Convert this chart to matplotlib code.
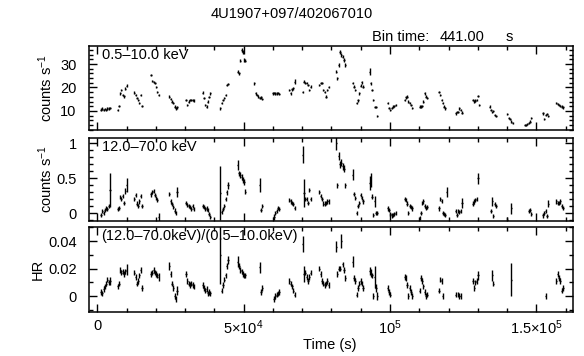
import numpy as np
import matplotlib.pyplot as plt
from matplotlib.ticker import MultipleLocator, FixedLocator, FixedFormatter

plt.rcParams['font.family'] = ['Liberation Sans', 'DejaVu Sans']
plt.rcParams['mathtext.fontset'] = 'custom'
plt.rcParams['mathtext.rm'] = 'Liberation Sans'
plt.rcParams['mathtext.it'] = 'Liberation Sans:italic'
plt.rcParams['font.size'] = 10.5

nan = np.nan
BIN = 441.0

# bin centres (s), one line per good-time interval
time = [
    1265, 1706, 2147, 2588, 3029, 3470, 3911, 4352,
    6940, 7381, 7822, 8263, 8704, 9145, 9586, 10027,
    12650, 13091, 13532, 13973, 14414, 14855, 15296,
    18360, 18801, 19242, 19683, 20124, 20565, 21006,
    24620, 25061, 25502, 25943, 26384, 26825, 27266,
    30330, 30771, 31212, 31653, 32094, 32535, 32976,
    36000, 36441, 36882, 37323, 37764, 38205, 38646,
    42050, 42491, 42932, 43373, 43814, 44255, 44696,
    47970, 48411, 48852, 49293, 49734, 50175, 50616,
    53680, 54121, 54562, 55003, 55444, 55885, 56326,
    59940, 60381, 60822, 61263, 61704, 62145,
    65650, 66091, 66532, 66973, 67414,
    70190, 70631, 71072, 71513, 71954, 72395, 72836,
    75900, 76341, 76782, 77223, 77664, 78105, 78546, 78987,
    81610, 82051, 82492, 82933, 83374, 83815, 84256, 84697,
    87280, 87721, 88162, 88603, 89044, 89485, 89926, 90367, 90808,
    93000, 93441, 93882, 94323, 94764, 95205, 95646,
    99250, 99691, 100132, 100573, 101014, 101455, 101896,
    104960, 105401, 105842, 106283, 106724, 107165, 107606,
    110090, 110531, 110972, 111413, 111854, 112295, 112736,
    116700, 117141, 117582, 118023, 118464, 118905, 119346,
    122400, 122841, 123282, 123723, 124164, 124605,
    128300, 128741, 129182, 129623, 130064, 130505,
    134000, 134441, 134882, 135323, 135764, 136205,
    140100, 140541, 140982, 141423, 141864,
    146000, 146441, 146882, 147323, 147764, 148205,
    152250, 152691, 153132, 153573, 154014,
    156830, 157271, 157712, 158153, 158594, 159035,
]

# 0.5-10.0 keV rate (counts/s)
soft = [
    10.6, 11.0, 10.4, 10.9, 10.5, 11.1, 11.0, 11.4,
    10.4, 12.1, 17.5, 18.9, 16.8, 16.2, 19.5, 20.8,
    17.8, 16.8, 15.4, 14.7, 13.3, 16.8, 12.1,
    25.3, 22.8, 22.4, 22.0, 20.2, 18.1, 16.8,
    16.1, 15.0, 14.0, 13.3, 11.9, 11.1, 11.5,
    14.7, 12.6, 14.0, 14.7, 14.7, 14.7, 14.4,
    17.8, 15.4, 12.6, 11.9, 14.0, 16.0, 17.5,
    11.1, 13.3, 14.7, 15.4, 16.8, 21.1, 21.5,
    26.7, 26.0, 31.4, 36.0, 35.0, 31.7, 31.4,
    21.8, 17.5, 16.8, 16.1, 15.4, 15.8, 15.0,
    17.5, 17.6, 17.4, 17.5, 17.6, 17.3,
    18.9, 17.5, 19.2, 19.6, 22.5,
    18.2, 22.5, 22.0, 21.8, 21.1, 18.9, 20.4,
    21.0, 21.8, 21.8, 18.9, 18.2, 16.1, 18.9, 20.3,
    26.7, 23.9, 29.6, 35.2, 33.8, 33.1, 31.7, 29.6,
    21.8, 20.4, 19.0, 13.5, 14.5, 17.5, 20.8, 22.2, 20.4,
    26.7, 21.8, 18.9, 14.7, 11.6, 11.6, 7.9,
    13.3, 11.3, 10.4, 11.3, 11.9, 12.1, 12.6,
    14.7, 15.8, 16.1, 14.0, 13.3, 12.6, 11.2,
    11.9, 11.9, 12.1, 14.0, 17.5, 16.1, 15.4,
    18.2, 16.8, 14.7, 13.3, 11.9, 11.1, nan,
    9.0, 9.7, 9.7, 11.1, 10.4, 9.3,
    14.7, 14.0, 14.4, 14.7, 16.4, 12.6,
    11.9, 10.4, 9.7, 10.1, 8.3, 7.9,
    8.7, 6.9, 6.5, 5.5, 5.0,
    4.0, 4.0, 4.4, 4.7, 5.5, 6.9,
    9.0, 6.5, 8.3, 8.7, 8.0,
    13.3, 13.0, 12.6, 12.1, 11.9, 11.5,
]
soft_err = [
    0.5, 0.5, 0.5, 0.5, 0.5, 0.5, 0.5, 0.5,
    0.5, 0.5, 0.5, 0.5, 0.5, 0.5, 0.5, 0.6,
    0.5, 0.5, 0.5, 0.5, 0.5, 0.5, 0.5,
    0.6, 0.5, 0.5, 0.5, 0.5, 0.5, 0.5,
    0.5, 0.5, 0.5, 0.5, 0.5, 0.5, 0.5,
    0.5, 0.5, 0.5, 0.5, 0.5, 0.5, 0.5,
    0.5, 0.5, 0.5, 0.5, 0.5, 0.5, 0.5,
    0.5, 0.5, 0.5, 0.5, 0.5, 0.5, 0.5,
    0.6, 0.6, 0.7, 0.8, 0.8, 0.7, 0.7,
    0.6, 0.5, 0.5, 0.5, 0.5, 0.5, 0.5,
    0.5, 0.5, 0.5, 0.5, 0.5, 0.5,
    0.5, 0.5, 0.5, 0.6, 1.0,
    0.5, 0.6, 0.5, 0.5, 0.5, 0.5, 0.5,
    0.5, 0.5, 0.5, 0.5, 0.5, 0.5, 0.5, 0.5,
    0.6, 0.6, 0.7, 0.8, 0.8, 0.7, 0.7, 0.7,
    0.5, 0.5, 0.5, 0.5, 0.5, 0.5, 0.5, 0.5, 0.5,
    1.5, 0.6, 0.5, 0.5, 0.5, 0.5, 0.5,
    0.5, 0.5, 0.5, 0.5, 0.5, 0.5, 0.5,
    0.5, 0.5, 0.5, 0.5, 0.5, 0.5, 0.5,
    0.5, 0.5, 0.5, 0.5, 0.5, 0.5, 0.5,
    0.5, 0.5, 0.5, 0.5, 0.5, 0.5, 0.5,
    0.5, 0.5, 0.5, 0.5, 0.5, 0.5,
    0.5, 0.5, 0.5, 0.5, 0.5, 0.5,
    0.5, 0.5, 0.5, 0.5, 0.5, 0.5,
    0.5, 0.5, 0.5, 0.5, 0.5,
    0.4, 0.4, 0.4, 0.4, 0.5, 0.5,
    0.5, 0.5, 0.5, 0.5, 0.5,
    0.5, 0.5, 0.5, 0.5, 0.5, 0.5,
]

# 12.0-70.0 keV rate (counts/s)
hard = [
    -0.02, 0.03, 0.01, 0.05, 0.08, 0.06, 0.10, 0.33,
    0.06, 0.08, 0.23, 0.20, 0.25, 0.15, 0.32, 0.40,
    0.20, 0.26, 0.14, 0.10, 0.17, 0.25, 0.10,
    0.27, 0.30, 0.32, 0.26, 0.22, 0.19, -0.05,
    0.28, 0.17, 0.13, 0.09, 0.04, 0.00, 0.31,
    0.15, 0.12, 0.11, 0.09, 0.06, 0.11, 0.06,
    0.11, 0.09, 0.06, 0.07, 0.05, -0.01, -0.05,
    0.29, 0.02, 0.06, 0.10, 0.21, 0.30, 0.40,
    0.69, 0.57, 0.55, 0.52, 0.48, 0.45, 0.31,
    nan, nan, nan, nan, 0.40, 0.05, 0.10,
    nan, -0.05, 0.01, 0.03, 0.08, 0.06,
    0.19, 0.17, 0.15, 0.13, 0.08,
    0.84, 0.29, 0.20, 0.20, 0.15, 0.33, 0.20,
    0.31, 0.25, 0.20, 0.14, 0.14, 0.15, 0.17, 0.17,
    1.00, 0.40, 0.82, 0.70, 0.72, 0.67, 0.64, 0.40,
    0.55, 0.28, 0.22, 0.01, 0.10, 0.15, 0.26, 0.22, 0.17,
    0.43, 0.48, 0.24, -0.02, 0.17, 0.00, 0.00,
    0.07, 0.05, -0.01, -0.03, -0.02, -0.01, 0.01,
    0.21, 0.19, 0.14, 0.00, 0.11, 0.09, 0.07,
    -0.07, 0.00, 0.15, 0.17, 0.11, 0.08, 0.09,
    0.07, 0.20, 0.18, 0.00, -0.01, -0.02, 0.31,
    0.03, -0.02, 0.03, 0.02, 0.03, 0.15,
    0.14, 0.17, 0.19, 0.21, 0.50, nan,
    nan, 0.03, 0.17, -0.04, 0.13, 0.11,
    -0.10, nan, nan, 0.07, nan,
    nan, nan, nan, 0.03, 0.05, -0.01,
    -0.03, 0.01, 0.03, -0.04, 0.14,
    0.17, 0.15, 0.15, 0.17, 0.10, 0.08,
]
hard_err = [
    0.03, 0.03, 0.03, 0.03, 0.03, 0.03, 0.03, 0.24,
    0.03, 0.03, 0.03, 0.03, 0.03, 0.03, 0.04, 0.10,
    0.03, 0.03, 0.03, 0.03, 0.03, 0.03, 0.03,
    0.03, 0.03, 0.03, 0.03, 0.03, 0.03, 0.06,
    0.03, 0.03, 0.03, 0.03, 0.03, 0.03, 0.07,
    0.03, 0.03, 0.03, 0.03, 0.03, 0.03, 0.03,
    0.03, 0.03, 0.03, 0.03, 0.03, 0.03, 0.03,
    0.38, 0.03, 0.03, 0.03, 0.03, 0.04, 0.05,
    0.07, 0.04, 0.04, 0.04, 0.04, 0.04, 0.04,
    0.03, 0.03, 0.03, 0.03, 0.10, 0.03, 0.03,
    0.03, 0.04, 0.03, 0.03, 0.03, 0.03,
    0.03, 0.03, 0.03, 0.03, 0.03,
    0.12, 0.20, 0.03, 0.03, 0.03, 0.03, 0.03,
    0.03, 0.03, 0.03, 0.03, 0.03, 0.03, 0.03, 0.03,
    0.10, 0.04, 0.06, 0.05, 0.05, 0.05, 0.05, 0.04,
    0.08, 0.03, 0.03, 0.03, 0.03, 0.03, 0.03, 0.03, 0.03,
    0.10, 0.10, 0.04, 0.03, 0.08, 0.03, 0.03,
    0.03, 0.03, 0.03, 0.03, 0.03, 0.03, 0.03,
    0.03, 0.03, 0.03, 0.03, 0.03, 0.03, 0.03,
    0.03, 0.03, 0.03, 0.03, 0.03, 0.03, 0.03,
    0.03, 0.03, 0.03, 0.03, 0.03, 0.03, 0.07,
    0.03, 0.03, 0.03, 0.03, 0.03, 0.07,
    0.03, 0.03, 0.03, 0.03, 0.08, 0.03,
    0.03, 0.03, 0.07, 0.03, 0.03, 0.03,
    0.05, 0.03, 0.03, 0.08, 0.03,
    0.03, 0.03, 0.03, 0.03, 0.03, 0.03,
    0.03, 0.03, 0.03, 0.03, 0.05,
    0.03, 0.03, 0.03, 0.03, 0.03, 0.03,
]

# hardness ratio (12.0-70.0 keV)/(0.5-10.0 keV)
hr = [
    0.003, 0.002, 0.005, 0.007, 0.009, 0.012, 0.010, 0.011,
    0.007, 0.009, 0.019, 0.017, 0.018, 0.016, 0.018, 0.019,
    0.017, 0.014, 0.009, 0.011, 0.015, 0.019, 0.006,
    0.016, 0.017, 0.019, 0.017, 0.016, 0.015, 0.014,
    0.022, 0.016, 0.009, 0.006, 0.000, -0.002, 0.004,
    0.016, 0.011, 0.009, 0.008, 0.009, 0.008, 0.007,
    0.008, 0.006, 0.004, 0.005, 0.002, 0.003, 0.002,
    0.030, 0.004, 0.008, 0.012, 0.015, 0.022, 0.026,
    0.025, 0.022, 0.019, 0.018, 0.016, 0.015, 0.015,
    nan, nan, nan, nan, 0.021, 0.003, 0.006,
    nan, -0.002, 0.000, 0.001, 0.002, 0.003,
    0.011, 0.009, 0.007, 0.004, 0.001,
    0.038, 0.016, 0.017, 0.014, 0.011, 0.014, 0.017,
    0.020, 0.016, 0.011, 0.009, 0.008, 0.009, 0.011, 0.008,
    0.036, 0.016, 0.020, 0.020, 0.040, 0.023, 0.019, 0.013,
    0.025, 0.013, 0.011, 0.001, 0.006, 0.009, 0.011, 0.009, 0.006,
    0.018, 0.017, 0.015, 0.000, 0.014, 0.006, 0.000,
    0.006, 0.003, 0.001, nan, nan, nan, nan,
    0.014, 0.013, 0.008, 0.000, 0.006, 0.003, 0.000,
    0.004, 0.013, 0.011, 0.007, 0.003, 0.000, 0.001,
    0.004, 0.012, 0.011, 0.000, nan, nan, nan,
    0.001, nan, 0.001, 0.000, 0.000, nan,
    0.011, 0.006, 0.010, 0.011, 0.015, nan,
    nan, nan, 0.015, 0.009, nan, nan,
    nan, nan, nan, 0.012, nan,
    nan, nan, nan, nan, nan, nan,
    nan, nan, 0.000, nan, nan,
    0.011, 0.016, 0.013, 0.011, 0.004, 0.006,
]
hr_err = [
    0.002, 0.002, 0.002, 0.002, 0.002, 0.002, 0.002, 0.003,
    0.002, 0.002, 0.002, 0.002, 0.002, 0.002, 0.002, 0.004,
    0.002, 0.002, 0.002, 0.002, 0.002, 0.002, 0.002,
    0.002, 0.002, 0.002, 0.002, 0.002, 0.002, 0.003,
    0.003, 0.002, 0.002, 0.002, 0.002, 0.002, 0.003,
    0.002, 0.002, 0.002, 0.002, 0.002, 0.002, 0.002,
    0.002, 0.002, 0.002, 0.002, 0.002, 0.002, 0.002,
    0.021, 0.002, 0.002, 0.002, 0.002, 0.002, 0.003,
    0.004, 0.002, 0.002, 0.002, 0.002, 0.002, 0.002,
    0.002, 0.002, 0.002, 0.002, 0.004, 0.002, 0.002,
    0.002, 0.002, 0.002, 0.002, 0.002, 0.002,
    0.002, 0.002, 0.002, 0.002, 0.002,
    0.006, 0.006, 0.002, 0.002, 0.002, 0.002, 0.002,
    0.002, 0.002, 0.002, 0.002, 0.002, 0.002, 0.002, 0.002,
    0.004, 0.002, 0.002, 0.002, 0.005, 0.002, 0.002, 0.002,
    0.004, 0.002, 0.002, 0.002, 0.002, 0.002, 0.002, 0.002, 0.002,
    0.003, 0.003, 0.002, 0.002, 0.008, 0.003, 0.003,
    0.002, 0.002, 0.002, 0.002, 0.002, 0.002, 0.002,
    0.002, 0.002, 0.002, 0.002, 0.002, 0.002, 0.002,
    0.002, 0.002, 0.002, 0.002, 0.002, 0.002, 0.002,
    0.002, 0.002, 0.002, 0.002, 0.002, 0.002, 0.002,
    0.002, 0.002, 0.002, 0.002, 0.002, 0.002,
    0.002, 0.002, 0.002, 0.002, 0.003, 0.002,
    0.002, 0.002, 0.004, 0.002, 0.002, 0.002,
    0.002, 0.002, 0.002, 0.012, 0.002,
    0.002, 0.002, 0.002, 0.002, 0.002, 0.002,
    0.002, 0.002, 0.002, 0.002, 0.002,
    0.002, 0.002, 0.002, 0.002, 0.002, 0.002,
]

for arr in (soft, soft_err, hard, hard_err, hr, hr_err):
    assert len(arr) == len(time), len(arr)

xticks = [0, 5e4, 1e5, 1.5e5]
xtick_labels = ['0', '5×10$^{4}$', '10$^{5}$', '1.5×10$^{5}$']

W, H = 584, 356
fig = plt.figure(figsize=(W / 100, H / 100), dpi=100)


def px_axes(left, top, right, bottom):
    return fig.add_axes([left / W, 1 - bottom / H, (right - left) / W, (bottom - top) / H])


ax1 = px_axes(88.5, 45.7, 573, 130)
ax2 = px_axes(88.5, 137.7, 573, 221)
ax3 = px_axes(88.5, 226.7, 573, 311.7)

panels = [
    (ax1, soft, soft_err, '0.5–10.0 keV', 'counts s$^{-1}$', -0.07),
    (ax2, hard, hard_err, '12.0–70.0 keV', 'counts s$^{-1}$', -0.07),
    (ax3, hr, hr_err, '(12.0–70.0keV)/(0.5–10.0keV)', 'HR', -0.09),
]

for ax, y, yerr, label, ylabel, label_x in panels:
    ax.errorbar(time, y, yerr=yerr, xerr=BIN / 2, fmt='none', ecolor='black', elinewidth=1.0)
    ax.set_xlim(-3000, 162500)
    ax.xaxis.set_major_locator(FixedLocator(xticks))
    ax.xaxis.set_minor_locator(MultipleLocator(1e4))
    ax.tick_params(which='both', direction='in', top=True, right=True, width=1.0)
    ax.tick_params(which='major', length=5.5)
    ax.tick_params(which='minor', length=3)
    ax.tick_params(axis='y', pad=8.5)
    ax.tick_params(axis='x', pad=5)
    for s in ax.spines.values():
        s.set_linewidth(1.1)
    ax.text(0.027, 0.975, label, transform=ax.transAxes, ha='left', va='top')
    ax.set_ylabel(ylabel)
    ax.yaxis.set_label_coords(label_x, 0.5)
    if ax is not ax3:
        ax.set_xticklabels([])

ax3.set_xticklabels(xtick_labels)

ax1.set_ylim(1.9, 37.8)
ax1.yaxis.set_major_locator(FixedLocator([10, 20, 30]))
ax1.yaxis.set_minor_locator(MultipleLocator(2))

ax2.set_ylim(-0.11, 1.08)
ax2.yaxis.set_major_locator(FixedLocator([0, 0.5, 1]))
ax2.yaxis.set_major_formatter(FixedFormatter(['0', '0.5', '1']))
ax2.yaxis.set_minor_locator(MultipleLocator(0.1))

ax3.set_ylim(-0.0114, 0.0504)
ax3.yaxis.set_major_locator(FixedLocator([0, 0.02, 0.04]))
ax3.yaxis.set_major_formatter(FixedFormatter(['0', '0.02', '0.04']))
ax3.yaxis.set_minor_locator(MultipleLocator(0.01))

fig.text(292 / W, 1 - 14 / H, '4U1907+097/402067010', ha='center', va='center')
fig.text(371.7 / W, 1 - 36.7 / H, 'Bin time:', ha='left', va='center')
fig.text(440 / W, 1 - 36.7 / H, '441.00', ha='left', va='center')
fig.text(506 / W, 1 - 36.7 / H, 's', ha='left', va='center')
fig.text(330 / W, 1 - 345 / H, 'Time (s)', ha='center', va='center')

fig.savefig('out.png', dpi=100)
